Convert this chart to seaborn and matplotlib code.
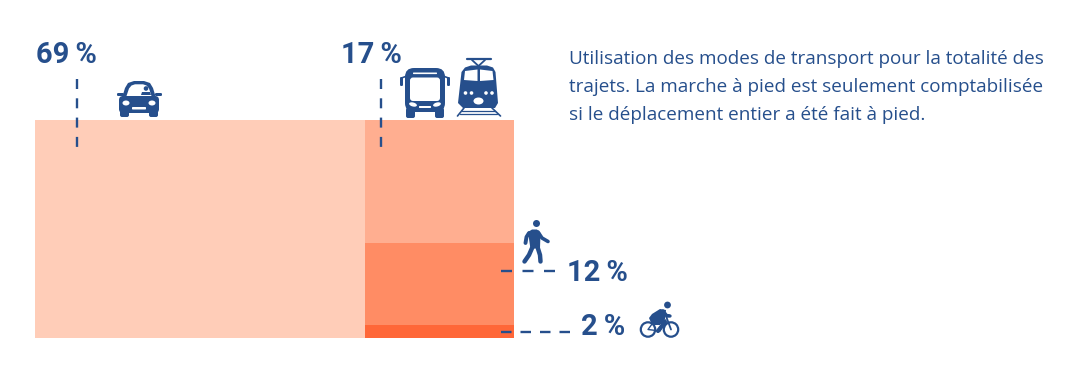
import numpy as np
import pandas as pd
import matplotlib
matplotlib.use("Agg")
import matplotlib.pyplot as plt
from matplotlib.patches import Circle, Ellipse, FancyBboxPatch, Polygon, Rectangle
import seaborn as sns

modes = ["Voiture", "Transports en commun", "Marche", "Vélo"]
shares = [68.9, 17.5, 11.8, 1.8]
colors = ["#FFCDB8", "#FFAE90", "#FF8C64", "#FF6738"]
pct_labels = ["69\u2009%", "17\u2009%", "12\u2009%", "2\u2009%"]
caption = ["Utilisation des modes de transport pour la totalité des",
           "trajets. La marche à pied est seulement comptabilisée",
           "si le déplacement entier a été fait à pied."]
INK = "#264F8C"

sns.set_theme(style="white")
plt.rcParams["font.family"] = ["Open Sans", "DejaVu Sans"]
plt.rcParams["lines.scale_dashes"] = False

W, H = 1086, 378
fig = plt.figure(figsize=(W / 100, H / 100), dpi=100)
ax = fig.add_axes([0, 0, 1, 1])

# Marimekko: car column takes the full height of the stack beside it
others = sum(shares[1:])
df = pd.DataFrame({
    "mode": modes,
    "pos": [shares[0] / 2] + [shares[0] + others / 2] * 3,
    "height": [others] + shares[1:],
})
sns.histplot(data=df, x="pos", weights="height", hue="mode", hue_order=modes,
             bins=[0, shares[0], 100], multiple="stack",
             palette=dict(zip(modes, colors)), alpha=1, linewidth=0,
             legend=False, ax=ax)
px_x = 479 / 100
px_y = 218 / others
ax.set_xlim(-35 / px_x, (W - 35) / px_x)
ax.set_ylim(-(H - 338) / px_y, 338 / px_y)
ax.axis("off")

# overlay in pixel coordinates for annotation and pictograms
ov = fig.add_axes([0, 0, 1, 1], facecolor="none")
ov.set_xlim(0, W)
ov.set_ylim(H, 0)
ov.axis("off")

def dash(x0, y0, x1, y1, on, off):
    ln, = ov.plot([x0, x1], [y0, y1], color=INK, lw=1.7, solid_capstyle="butt",
                  dash_capstyle="butt")
    ln.set_dashes((on * .72, off * .72))

dash(77, 79, 77, 148, 10, 9.3)
dash(381, 79, 381, 148, 10, 9.3)
dash(501, 271, 557, 271, 11, 10.5)
dash(501, 332, 571, 332, 10.5, 9)

def big(x, y, s):
    ov.text(x, y, s, color=INK, fontsize=21, fontweight="bold", family="Roboto",
            ha="center", va="baseline")

big(66, 63, pct_labels[0])
big(371.5, 63, pct_labels[1])
big(597, 281, pct_labels[2])
big(603, 335, pct_labels[3])
for y, s in zip([64, 92, 120], caption):
    ov.text(569, y, s, color=INK, fontsize=13.6, ha="left", va="baseline")

def P(pts, fc=INK, **k):
    ov.add_patch(Polygon(pts, closed=True, fc=fc, ec="none", **k))
def R(x, y, w, h, r=1.5, fc=INK, ec="none", lw=0):
    ov.add_patch(FancyBboxPatch((x + r, y + r), max(w - 2 * r, .01), max(h - 2 * r, .01),
                                boxstyle=f"round,pad={r}", fc=fc, ec=ec, lw=lw))
def L(xs, ys, lw=2.0, fc=INK):
    ov.plot(xs, ys, color=fc, lw=lw, solid_capstyle="round", solid_joinstyle="round")
def C(x, y, r, fc=INK, ec="none", lw=0):
    ov.add_patch(Ellipse((x, y), 2 * r, 2 * r, fc=fc, ec=ec, lw=lw))

# car
R(119, 96, 40, 17, 4)
R(120, 108, 9, 9, 2); R(149, 108, 9, 9, 2)
P([(122, 98), (125, 88), (128, 83), (134, 81), (144, 81), (150, 83), (153, 88), (156, 98)])
P([(126.5, 96), (129, 88.5), (131.5, 85.5), (135, 84.3), (143, 84.3), (146.5, 85.5), (149, 88.5), (151.5, 96)], fc="white")
R(117, 93, 7, 3, 1.2); R(155, 93, 7, 3, 1.2)
C(146, 88.5, 2.3)
P([(141, 95), (142, 92), (150, 92), (151, 95)])
ov.add_patch(Ellipse((126, 103), 7, 5, fc="white", ec="none"))
ov.add_patch(Ellipse((152, 103), 7, 5, fc="white", ec="none"))
R(132, 107, 14, 2.5, .8, fc="white")

# bus
R(405, 68, 40, 44, 9)
R(406, 108, 9, 10, 2); R(435, 108, 9, 10, 2)
R(400, 77, 3, 9, 1.2); R(447, 77, 3, 9, 1.2)
L([401.5, 407], [78, 76], 1.2); L([448.5, 443], [78, 76], 1.2)
R(410, 77.5, 30, 23.5, 3, fc="white")
R(413, 72.5, 24, 1.6, .6, fc="white")
ov.add_patch(Ellipse((413, 104.5), 8, 4, angle=15, fc="white", ec="none"))
ov.add_patch(Ellipse((437, 104.5), 8, 4, angle=-15, fc="white", ec="none"))
R(419, 106, 12, 2, .6, fc="white")

# train
P([(461.5, 72), (465, 67.5), (471, 65.5), (487, 65.5), (493, 67.5), (495.5, 72),
   (498, 103), (495, 108), (463, 108), (458, 103)])
L([467, 491], [59, 59], 1.6)
L([478.5, 472], [66, 60], 1.3); L([478.5, 485], [66, 60], 1.3)
P([(465, 71), (477.5, 69.5), (477.5, 81), (464, 80)], fc="white")
P([(492.5, 71), (480, 69.5), (480, 81), (493.5, 80)], fc="white")
for x in (465.5, 471.5, 486, 492):
    C(x, 93, 1.8, fc="white")
ov.add_patch(Ellipse((478.5, 101), 10, 7, fc="white", ec="none"))
L([464, 457.5], [108, 116], 1.2); L([492, 500.5], [108, 116], 1.2)
L([462, 495], [111, 111], .9); L([460, 497], [113.5, 113.5], .9)

# pedestrian
C(536.5, 223.5, 3.5)
P([(528, 232), (532, 229.5), (537, 229.5), (540.5, 233), (540, 248), (530.5, 249)])
L([529, 526.5, 525.5], [233, 237, 243], 2.8)
L([538, 542, 548], [232, 238, 241.5], 2.6)
L([532.5, 529, 524.5], [247, 255, 261.5], 3.2)
L([537.5, 540, 540.5], [247, 255, 261.5], 3.2)

# cyclist
C(667.5, 305, 3.4)
C(648, 329.5, 7.2, fc="none", ec=INK, lw=1.6)
C(671, 329.5, 7.2, fc="none", ec=INK, lw=1.6)
L([655, 666, 660, 648, 655], [320, 320, 331, 329.5, 320], 1.0)
L([666, 671], [316, 329.5], 1.3)
L([663, 669], [314.5, 314.5], 1.3)
P([(649, 318), (652, 314), (660, 309), (666, 310), (665, 319), (660, 325), (652, 325)])
L([663, 667, 670], [311, 316, 316], 2.4)
L([657, 665, 658], [321, 322, 331], 3.0)

fig.savefig("out.png", dpi=100)
